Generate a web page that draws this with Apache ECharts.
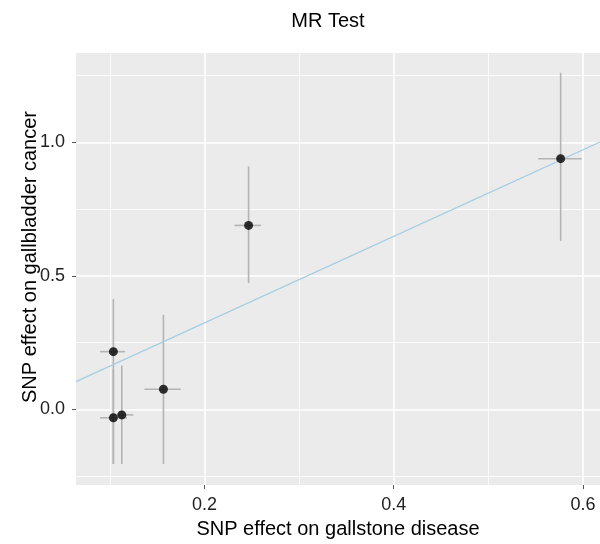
<!DOCTYPE html>
<html>
<head>
<meta charset="utf-8">
<script src="https://cdn.jsdelivr.net/npm/echarts@6/dist/echarts.min.js"></script>
<style>html,body{margin:0;padding:0;background:#fff;}#c{width:600px;height:544px;}</style>
</head>
<body>
<div id="c"></div>
<script>
// SNP effects (x: gallstone disease, y: gallbladder cancer) with error bar bounds
const bx  = [0.2466, 0.5764, 0.1037, 0.1037, 0.1126, 0.1566];
const by  = [0.689, 0.939, 0.216, -0.032, -0.021, 0.075];
const xLo = [0.2317, 0.5528, 0.0896, 0.0896, 0.1000, 0.1365];
const xHi = [0.2597, 0.5986, 0.1161, 0.1180, 0.1249, 0.1750];
const yLo = [0.473, 0.631, -0.205, -0.205, -0.205, -0.205];
const yHi = [0.910, 1.261, 0.413, 0.150, 0.164, 0.354];
const ivwSlope = 1.62;
const xRange = [0.0642, 0.618];
const yRange = [-0.284, 1.335];
const xTicks = [0.2, 0.4, 0.6];
const yTicks = [0.0, 0.5, 1.0];

const FONT = 'Liberation Sans, Arial, Helvetica, sans-serif';
const chart = echarts.init(document.getElementById('c'), null, {renderer: 'canvas'});

const barData = bx.map((v, i) => [v, by[i], xLo[i], xHi[i], yLo[i], yHi[i]]);
const ptData = bx.map((v, i) => [v, by[i]]);
const lineData = xRange.map(x => [x, ivwSlope * x]);

function axisCommon(ticks, range) {
  return {
    type: 'value',
    min: range[0],
    max: range[1],
    splitNumber: 3,
    axisLine: {show: false, onZero: false},
    axisTick: {show: true, length: 4, customValues: ticks, lineStyle: {color: '#555', width: 1}},
    axisLabel: {
      customValues: ticks,
      fontFamily: FONT, fontSize: 18, color: '#222',
      formatter: v => Number(v).toFixed(1)
    },
    splitLine: {show: true, lineStyle: {color: '#ffffff', width: 1.6}},
    minorTick: {show: false, splitNumber: 2},
    minorSplitLine: {show: true, lineStyle: {color: '#ffffff', width: 0.8}}
  };
}

const xAxis = axisCommon(xTicks, xRange);
xAxis.minInterval = 0.2; xAxis.maxInterval = 0.2;
xAxis.axisLabel.margin = 11;
xAxis.name = 'SNP effect on gallstone disease';
xAxis.nameLocation = 'middle';
xAxis.nameGap = 33;
xAxis.nameTextStyle = {fontFamily: FONT, fontSize: 20, color: '#000'};

const yAxis = axisCommon(yTicks, yRange);
yAxis.minInterval = 0.5; yAxis.maxInterval = 0.5;
yAxis.axisLabel.margin = 11;

chart.setOption({
  animation: false,
  backgroundColor: '#ffffff',
  grid: {left: 76, top: 53, right: 0, bottom: 58, show: true, backgroundColor: '#EBEBEB', borderWidth: 0},
  xAxis: xAxis,
  yAxis: yAxis,
  graphic: [
    {type: 'text', x: 328, y: 21, style: {text: 'MR Test', font: '20px ' + FONT, fill: '#000', align: 'center', verticalAlign: 'middle'}},
    {type: 'text', x: 30, y: 257, rotation: Math.PI / 2, style: {text: 'SNP effect on gallbladder cancer', font: '20px ' + FONT, fill: '#000', align: 'center', verticalAlign: 'middle'}}
  ],
  series: [
    {
      type: 'custom',
      data: barData,
      z: 2,
      renderItem: function (params, api) {
        const x = api.value(0), y = api.value(1);
        const h1 = api.coord([api.value(2), y]);
        const h2 = api.coord([api.value(3), y]);
        const v1 = api.coord([x, api.value(4)]);
        const v2 = api.coord([x, api.value(5)]);
        const st = {stroke: '#b4b4b4', lineWidth: 1.6};
        return {
          type: 'group',
          children: [
            {type: 'line', shape: {x1: h1[0], y1: h1[1], x2: h2[0], y2: h2[1]}, style: st},
            {type: 'line', shape: {x1: v1[0], y1: v1[1], x2: v2[0], y2: v2[1]}, style: st}
          ]
        };
      }
    },
    {
      type: 'line',
      data: lineData,
      showSymbol: false,
      z: 3,
      lineStyle: {color: '#A6CEE3', width: 1.4},
      silent: true
    },
    {
      type: 'scatter',
      data: ptData,
      symbol: 'circle',
      symbolSize: 9,
      z: 4,
      itemStyle: {color: '#000000'}
    }
  ]
});
</script>
</body>
</html>
